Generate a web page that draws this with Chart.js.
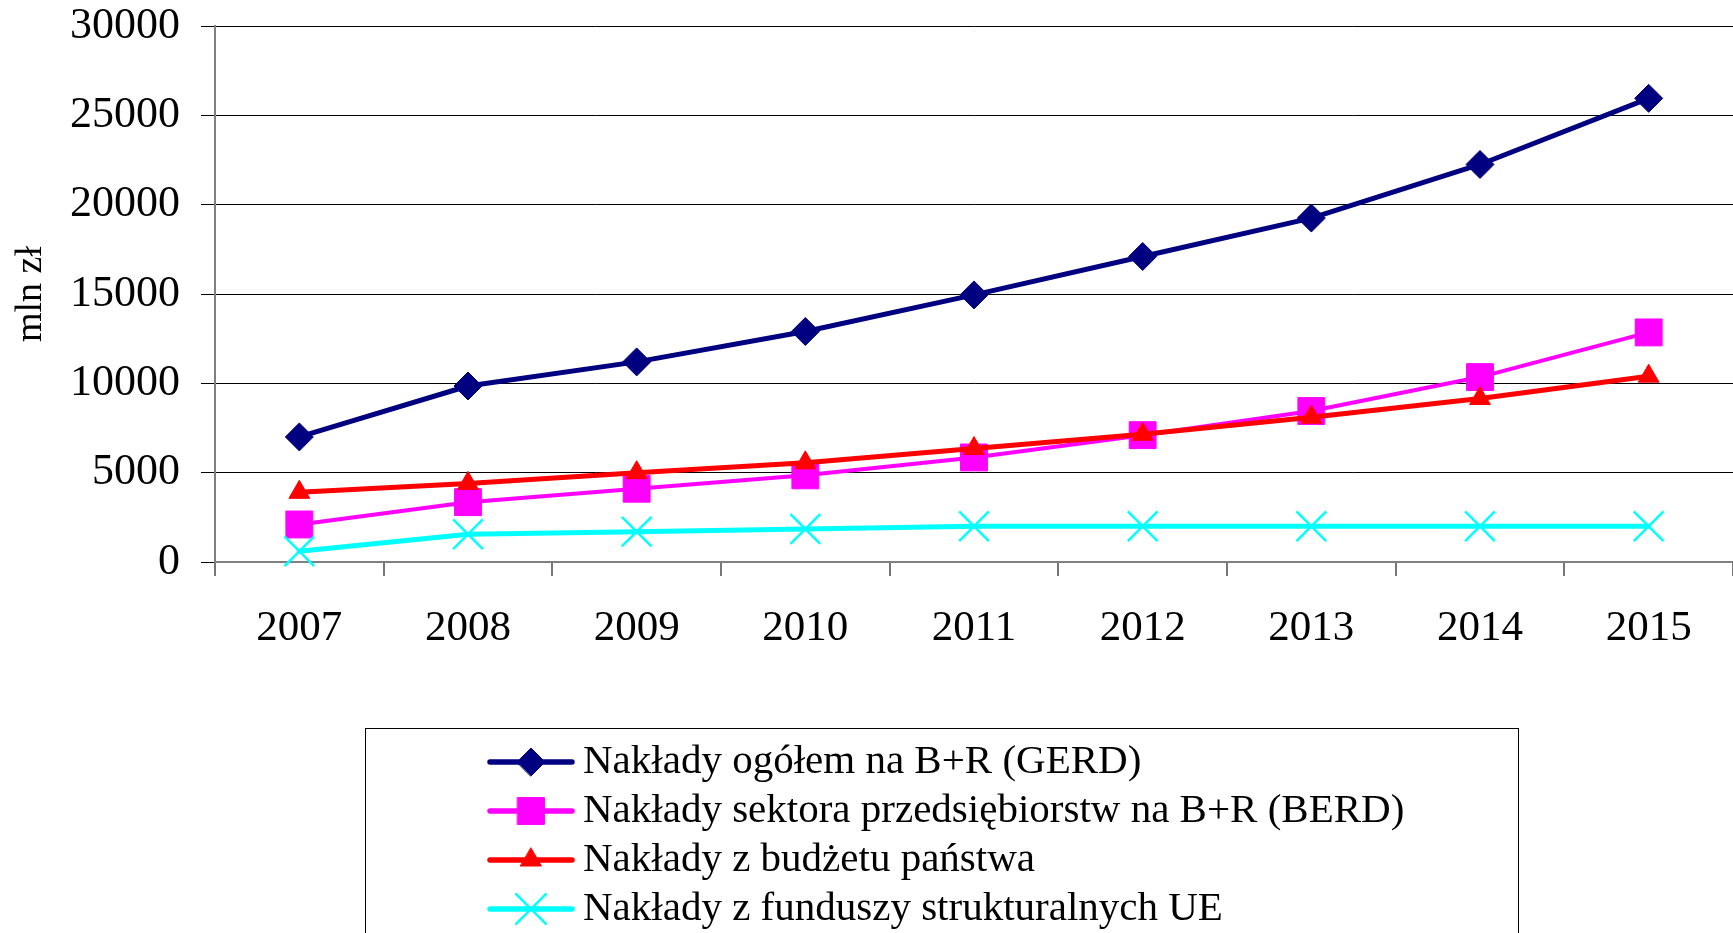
<!DOCTYPE html>
<html>
<head>
<meta charset="utf-8">
<script src="https://cdn.jsdelivr.net/npm/chart.js"></script>
<style>
  html, body { margin: 0; padding: 0; background: #fff; }
  #wrap { width: 1733px; height: 933px; }
</style>
</head>
<body>
<div id="wrap"><canvas id="chart" width="1733" height="933"></canvas></div>
<script>
const years = ['2007', '2008', '2009', '2010', '2011', '2012', '2013', '2014', '2015'];
const gerd = [7000, 9850, 11200, 12900, 14950, 17100, 19250, 22250, 25950];
const berd = [2100, 3350, 4100, 4850, 5850, 7100, 8450, 10350, 12850];
const budget = [3900, 4400, 5000, 5550, 6350, 7150, 8100, 9150, 10400];
const euFunds = [600, 1550, 1700, 1850, 2000, 2000, 2000, 2000, 2000];
const seriesLabels = [
    'Nakłady ogółem na B+R (GERD)',
    'Nakłady sektora przedsiębiorstw na B+R (BERD)',
    'Nakłady z budżetu państwa',
    'Nakłady z funduszy strukturalnych UE'
];
const yMin = 0, yMax = 30000, yStep = 5000;
const yTitle = 'mln zł';

const serif = "'Liberation Serif', 'Times New Roman', serif";
Chart.defaults.font.family = serif;
Chart.defaults.color = '#000';

const makeSeries = (label, data, color, style, radius, width, order) => ({
    label: label,
    data: data,
    borderColor: color,
    backgroundColor: color,
    borderWidth: width,
    borderJoinStyle: 'round',
    borderCapStyle: 'round',
    pointStyle: style,
    pointRadius: radius,
    pointHoverRadius: radius,
    pointBackgroundColor: color,
    pointBorderColor: color,
    pointBorderWidth: style === 'crossRot' ? 2.5 : 1,
    tension: 0,
    fill: false,
    clip: false,
    order: order
});

// no extra room around the scales, the plot runs to the canvas edge
const noPadding = scale => {
    scale.paddingLeft = 0;
    scale.paddingRight = 0;
    scale.paddingTop = 0;
    scale.paddingBottom = 0;
};

// legend drawn as a framed box under the plot, like the original
const boxLegend = {
    id: 'boxLegend',
    afterDraw(chart) {
        const ctx = chart.ctx;
        const left = 365, top = 728, right = 1518;
        const firstRow = 762, rowGap = 49;
        ctx.save();
        ctx.strokeStyle = '#000';
        ctx.lineWidth = 1;
        ctx.strokeRect(left + 0.5, top + 0.5, right - left, 300);
        chart.data.datasets.forEach((ds, i) => {
            const y = firstRow + i * rowGap;
            ctx.strokeStyle = ds.borderColor;
            ctx.lineWidth = 5.5;
            ctx.lineCap = 'round';
            ctx.beginPath();
            ctx.moveTo(490, y);
            ctx.lineTo(572, y);
            ctx.stroke();
            ctx.fillStyle = ds.pointBackgroundColor;
            ctx.strokeStyle = ds.pointBorderColor;
            ctx.lineWidth = ds.pointBorderWidth;
            Chart.helpers.drawPoint(ctx, {
                pointStyle: ds.pointStyle,
                radius: ds.pointRadius,
                rotation: 0,
                borderWidth: ds.pointBorderWidth
            }, 531, y);
            ctx.fillStyle = '#000';
            ctx.font = '41px ' + serif;
            ctx.textAlign = 'left';
            ctx.textBaseline = 'middle';
            ctx.fillText(ds.label, 583, y);
        });
        ctx.restore();
    }
};

const chart = new Chart(document.getElementById('chart').getContext('2d'), {
    type: 'line',
    data: {
        labels: years,
        datasets: [
            makeSeries(seriesLabels[0], gerd, '#000080', 'rectRot', 14, 5, 4),
            makeSeries(seriesLabels[1], berd, '#ff00ff', 'rect', 19, 4, 3),
            makeSeries(seriesLabels[2], budget, '#ff0000', 'triangle', 12, 5, 2),
            makeSeries(seriesLabels[3], euFunds, '#00ffff', 'crossRot', 21, 5, 1)
        ]
    },
    options: {
        responsive: false,
        animation: false,
        layout: {
            autoPadding: false,
            padding: { top: 26, right: 0, bottom: 271, left: 0 }
        },
        plugins: {
            legend: { display: false },
            tooltip: { enabled: false }
        },
        scales: {
            x: {
                offset: true,
                grid: {
                    offset: true,
                    drawOnChartArea: false,
                    drawTicks: true,
                    tickLength: 14,
                    color: '#777',
                    lineWidth: 2
                },
                border: { color: '#808080', width: 2 },
                ticks: {
                    font: { size: 43, lineHeight: 1.2 },
                    padding: 27,
                    maxRotation: 0,
                    autoSkip: false
                },
                afterFit(scale) {
                    scale.height = 100;
                    noPadding(scale);
                }
            },
            y: {
                min: yMin,
                max: yMax,
                grid: {
                    color: '#000',
                    lineWidth: 1,
                    tickLength: 14
                },
                border: { color: '#808080', width: 2 },
                ticks: {
                    stepSize: yStep,
                    font: { size: 44, lineHeight: 1.2 },
                    padding: 21,
                    callback: v => String(v)
                },
                title: {
                    display: true,
                    text: yTitle,
                    font: { size: 38, lineHeight: 1.2 },
                    padding: { top: 8, bottom: 0 }
                },
                afterFit(scale) {
                    scale.width = 215;
                    noPadding(scale);
                }
            }
        }
    },
    plugins: [boxLegend]
});
</script>
</body>
</html>
